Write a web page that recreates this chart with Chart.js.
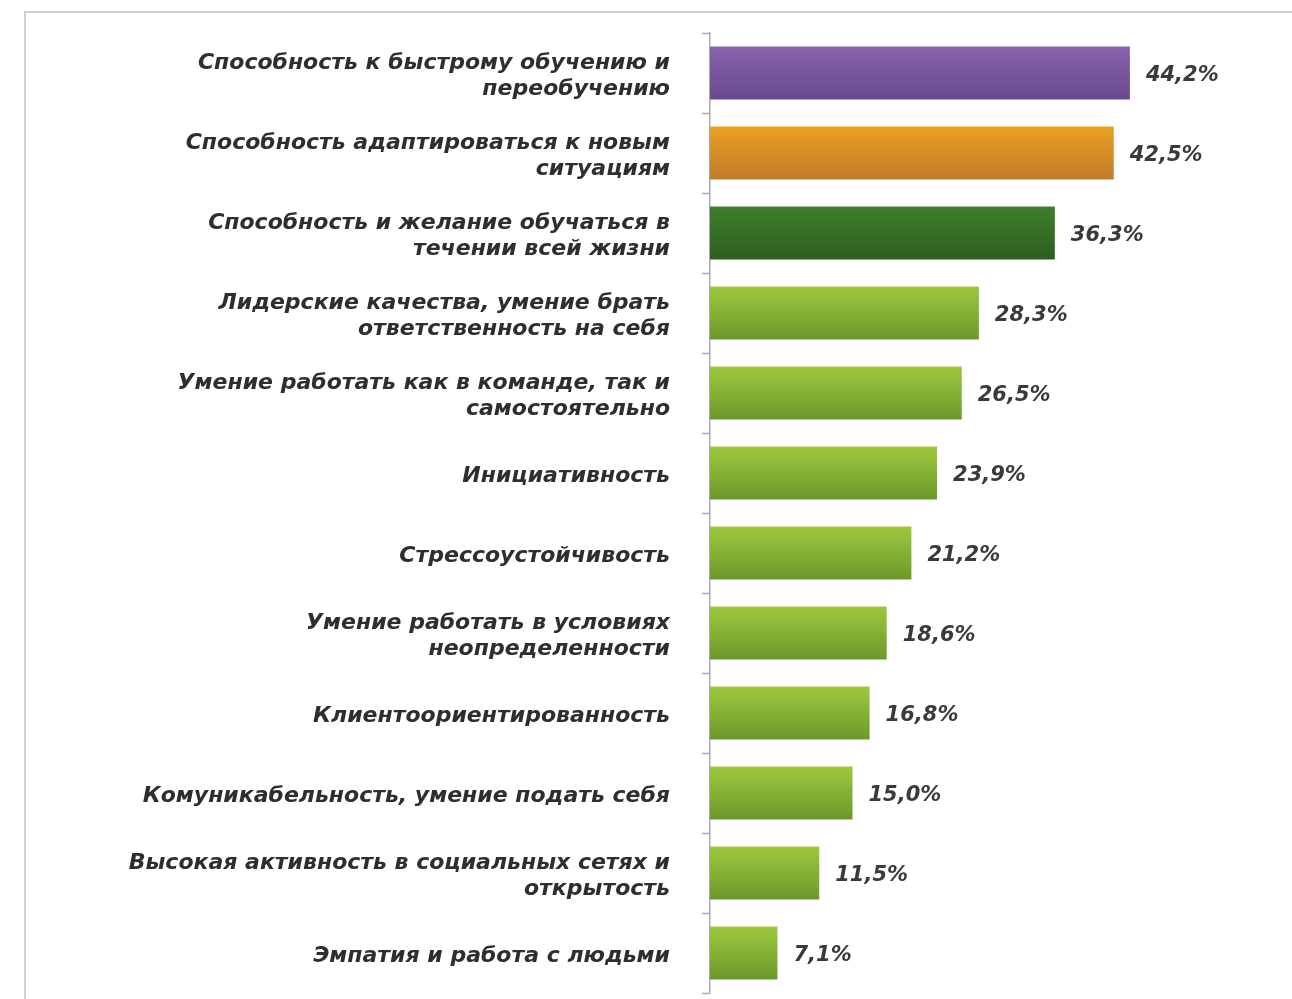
<!DOCTYPE html>
<html>
<head>
<meta charset="utf-8">
<script src="https://cdn.jsdelivr.net/npm/chart.js@4/dist/chart.umd.min.js"></script>
<style>
    html, body { margin: 0; padding: 0; background: #fff; }
    #wrap { position: relative; width: 1292px; height: 999px; }
    #frame {
        position: absolute; left: 24px; top: 11px; right: 0; bottom: 0;
        border-top: 2px solid #cfcfcf; border-left: 2px solid #cfcfcf;
    }
    canvas { position: absolute; left: 0; top: 0; }
</style>
</head>
<body>
<div id="wrap">
    <div id="frame"></div>
    <canvas id="grafico-kompetencii" width="1292" height="999"></canvas>
</div>
<script>
// категории (подписи по оси Y, по строкам)
const kategorii = [
    ['Способность к быстрому обучению и', 'переобучению'],
    ['Способность адаптироваться к новым', 'ситуациям'],
    ['Способность и желание обучаться в', 'течении всей жизни'],
    ['Лидерские качества, умение брать', 'ответственность на себя'],
    ['Умение работать как в команде, так и', 'самостоятельно'],
    'Инициативность',
    'Стрессоустойчивость',
    ['Умение работать в условиях', 'неопределенности'],
    'Клиентоориентированность',
    'Комуникабельность, умение подать себя',
    ['Высокая активность в социальных сетях и', 'открытость'],
    'Эмпатия и работа с людьми'
];

// доля ответов, %
const znacheniya = [44.2, 42.5, 36.3, 28.3, 26.5, 23.9, 21.2, 18.6, 16.8, 15.0, 11.5, 7.1];

// цвета столбцов: [верх, низ] градиента
const cvetaStolbcov = [
    ['#8663ad', '#6a4a8e'],
    ['#eba022', '#bf7c2c'],
    ['#3f7e2c', '#2c5f1f'],
    ['#9dc83c', '#6b9a2b'],
    ['#9dc83c', '#6b9a2b'],
    ['#9dc83c', '#6b9a2b'],
    ['#9dc83c', '#6b9a2b'],
    ['#9dc83c', '#6b9a2b'],
    ['#9dc83c', '#6b9a2b'],
    ['#9dc83c', '#6b9a2b'],
    ['#9dc83c', '#6b9a2b'],
    ['#9dc83c', '#6b9a2b']
];

const FONT = '"DejaVu Sans", sans-serif';

/**
 * Вертикальный градиент для каждого столбца
 */
function gradienteStolbca(context) {
    const chart = context.chart;
    const par = cvetaStolbcov[context.dataIndex];
    const y = chart.scales.y;
    if (!y || !chart.chartArea) return par[0];
    const centr = y.getPixelForValue(context.dataIndex);
    const pol = 26;
    const g = chart.ctx.createLinearGradient(0, centr - pol, 0, centr + pol);
    g.addColorStop(0, par[0]);
    g.addColorStop(1, par[1]);
    return g;
}

// подписи значений справа от столбцов
const podpisiZnachenij = {
    id: 'podpisiZnachenij',
    afterDatasetsDraw(chart) {
        const ctx = chart.ctx;
        const meta = chart.getDatasetMeta(0);
        ctx.save();
        ctx.font = 'italic bold 21px ' + FONT;
        ctx.fillStyle = '#3a3a3a';
        ctx.textAlign = 'left';
        ctx.textBaseline = 'middle';
        meta.data.forEach((bar, i) => {
            const txt = znacheniya[i].toFixed(1).replace('.', ',') + '%';
            ctx.fillText(txt, bar.x + 16, bar.y + 3);
        });
        ctx.restore();
    }
};

new Chart(document.getElementById('grafico-kompetencii'), {
    type: 'bar',
    data: {
        labels: kategorii,
        datasets: [{
            data: znacheniya,
            backgroundColor: gradienteStolbca,
            borderWidth: 0,
            barPercentage: 0.66,
            categoryPercentage: 1
        }]
    },
    plugins: [podpisiZnachenij],
    options: {
        responsive: false,
        animation: false,
        indexAxis: 'y',
        layout: {
            padding: { top: 33, bottom: 6, right: 12, left: 0 }
        },
        scales: {
            x: {
                display: false,
                min: 0,
                max: 60
            },
            y: {
                afterFit: function (scale) {
                    scale.width = 710;
                    scale.paddingTop = 0;
                    scale.paddingBottom = 0;
                },
                border: { display: true, color: '#a9a9b4', width: 1.5 },
                grid: {
                    drawOnChartArea: false,
                    drawTicks: true,
                    tickLength: 8,
                    tickColor: '#a9a9b4',
                    tickWidth: 1.5,
                    offset: true
                },
                ticks: {
                    padding: 32,
                    labelOffset: 3,
                    color: '#2e2e2e',
                    font: { family: FONT, size: 22, style: 'italic', weight: 'bold', lineHeight: 1.2 }
                }
            }
        },
        plugins: {
            legend: { display: false },
            tooltip: { enabled: false }
        }
    }
});
</script>
</body>
</html>
